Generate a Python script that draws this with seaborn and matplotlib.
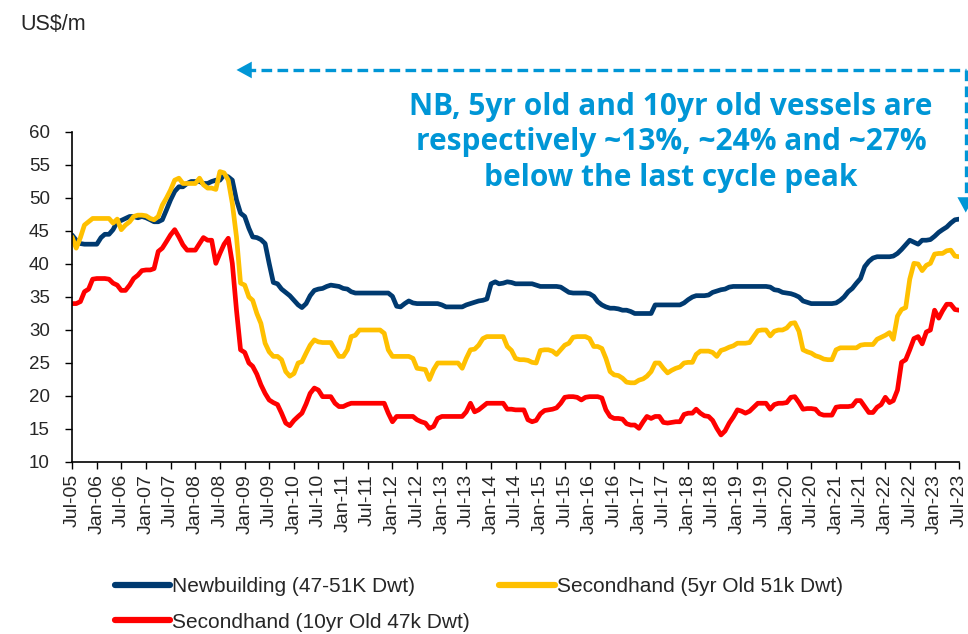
import matplotlib
matplotlib.use('Agg')
import matplotlib.pyplot as plt
import matplotlib.dates as mdates
import seaborn as sns
import pandas as pd

# monthly values, Jul-05 .. Jul-23 (US$ m)
months = pd.date_range('2005-07-01', '2023-07-01', freq='MS')

newbuilding = [
    44.4, 43.6, 43.1, 43, 43, 43, 43, 44, 44.5, 44.5,
    45.2, 46.4, 46.6, 46.9, 47.2, 47.2, 47, 47.2, 47, 46.7,
    46.4, 46.4, 46.7, 48.2, 49.7, 51, 51.7, 51.7, 52.2, 52.5,
    52.5, 52.5, 52.2, 52.2, 52.5, 52.7, 52.7, 53.5, 53.2, 52.7,
    49.7, 47.7, 47.2, 45.4, 44.1, 44, 43.7, 43.1, 40.1, 37.2,
    37, 36.2, 35.7, 35.2, 34.5, 33.8, 33.4, 34, 35.2, 36,
    36.2, 36.3, 36.6, 36.8, 36.7, 36.6, 36.3, 36.2, 35.8, 35.6,
    35.6, 35.6, 35.6, 35.6, 35.6, 35.6, 35.6, 35.6, 35.1, 33.6,
    33.5, 34, 34.4, 34.1, 34, 34, 34, 34, 34, 34,
    33.8, 33.5, 33.5, 33.5, 33.5, 33.5, 33.8, 34, 34.2, 34.4,
    34.5, 34.7, 37, 37.3, 37, 37.1, 37.3, 37.2, 37, 37,
    37, 37, 37, 36.8, 36.6, 36.6, 36.6, 36.6, 36.6, 36.5,
    36.1, 35.7, 35.6, 35.6, 35.6, 35.6, 35.5, 35.1, 34.3, 33.8,
    33.5, 33.3, 33.3, 33.2, 33, 33, 32.8, 32.5, 32.5, 32.5,
    32.5, 32.5, 33.8, 33.8, 33.8, 33.8, 33.8, 33.8, 33.8, 34.1,
    34.6, 35, 35.2, 35.2, 35.2, 35.3, 35.7, 35.9, 36.1, 36.2,
    36.5, 36.6, 36.6, 36.6, 36.6, 36.6, 36.6, 36.6, 36.6, 36.6,
    36.5, 36.1, 36, 35.7, 35.6, 35.5, 35.3, 35, 34.4, 34.2,
    34, 34, 34, 34, 34, 34, 34.1, 34.5, 35, 35.8,
    36.3, 37.1, 37.8, 39.6, 40.4, 40.9, 41.1, 41.1, 41.1, 41.1,
    41.2, 41.6, 42.2, 42.9, 43.6, 43.3, 43, 43.6, 43.6, 43.7,
    44.2, 44.8, 45.2, 45.6, 46.2, 46.7, 46.8,
]

secondhand_5yr = [
    44.1, 42.4, 44, 45.9, 46.4, 46.9, 46.9, 46.9, 46.9, 46.9,
    46.2, 46.8, 45.2, 45.9, 46.4, 47.2, 47.4, 47.4, 47.3, 46.9,
    46.7, 47.2, 48.9, 50, 51.2, 52.7, 53, 52.2, 52.2, 52.2,
    52.2, 53, 52, 51.5, 51.5, 51.3, 54, 53.8, 52.7, 49.2,
    44.1, 37.1, 36.8, 35, 34.5, 32.5, 31, 28, 26.7, 26,
    26, 25.5, 23.7, 23, 23.4, 25, 25.2, 26.5, 27.7, 28.5,
    28.2, 28.1, 28.1, 28.1, 27, 26, 26, 27, 29, 29.2,
    30, 30, 30, 30, 30, 30, 29.5, 27, 26, 26,
    26, 26, 26, 25.7, 24.2, 24.1, 24, 22.5, 24, 25,
    25, 25, 25, 25, 25, 24.2, 25.7, 27, 27.1, 27.7,
    28.7, 29, 29, 29, 29, 29, 27.5, 26.9, 25.7, 25.5,
    25.5, 25.4, 25.1, 25, 26.9, 27, 27, 26.8, 26.3, 27,
    27.7, 28, 28.9, 29, 29, 29, 28.7, 27.5, 27.5, 27.2,
    25.7, 23.7, 23.2, 23.1, 22.7, 22.1, 22, 22, 22.4, 22.6,
    23, 23.7, 25, 25, 24.2, 23.5, 23.9, 24.2, 24.4, 25,
    25.1, 25.1, 26.3, 26.8, 26.8, 26.8, 26.6, 26, 26.9, 27.1,
    27.4, 27.6, 28, 28, 28, 28.1, 29, 29.9, 30, 30,
    29.1, 29.8, 30, 30, 30.3, 31, 31.1, 29.8, 27, 26.7,
    26.5, 26.1, 25.9, 25.6, 25.5, 25.5, 27, 27.3, 27.3, 27.3,
    27.3, 27.3, 27.7, 27.8, 27.8, 27.8, 28.6, 28.9, 29.2, 29.6,
    28.6, 32.1, 33.1, 33.4, 37.7, 40.1, 40, 39, 39.8, 40.1,
    41.5, 41.6, 41.6, 42, 42.1, 41.2, 41.1,
]

secondhand_10yr = [
    34, 34, 34.3, 35.8, 36.2, 37.7, 37.8, 37.8, 37.8, 37.7,
    37.1, 36.8, 36, 36, 36.8, 37.8, 38.3, 39, 39.1, 39.1,
    39.3, 41.9, 42.4, 43.4, 44.4, 45.2, 44.1, 42.9, 42.1, 42.1,
    42.1, 43.1, 44, 43.6, 43.6, 40.1, 41.6, 43, 43.9, 40.1,
    33, 27, 26.6, 25, 24.5, 23.3, 21.7, 20.4, 19.4, 19,
    18.7, 17.4, 15.9, 15.5, 16.3, 16.9, 17.4, 18.8, 20.4, 21.2,
    20.9, 19.9, 19.9, 19.9, 18.9, 18.4, 18.4, 18.7, 18.9, 18.9,
    18.9, 18.9, 18.9, 18.9, 18.9, 18.9, 18.9, 17.4, 16.1, 16.9,
    16.9, 16.9, 16.9, 16.9, 16.4, 16.1, 15.9, 15.1, 15.4, 16.6,
    16.9, 16.9, 16.9, 16.9, 16.9, 16.9, 17.6, 18.9, 17.6, 17.9,
    18.4, 18.9, 18.9, 18.9, 18.9, 18.9, 18, 18, 17.9, 17.9,
    17.9, 16.4, 16.1, 16.3, 17.3, 17.8, 17.9, 18, 18.2, 18.9,
    19.8, 19.9, 19.9, 19.8, 19.4, 19.8, 19.9, 19.9, 19.9, 19.7,
    17.9, 16.9, 16.6, 16.6, 16.5, 15.8, 15.6, 15.6, 15.1, 16.1,
    16.9, 16.6, 16.9, 16.9, 16, 15.9, 16, 16.1, 16.1, 17.2,
    17.4, 17.4, 18, 17.4, 17, 16.9, 16.3, 15.1, 14.1, 14.7,
    15.9, 16.8, 17.9, 17.7, 17.4, 17.7, 18.3, 18.9, 18.9, 18.9,
    18, 18.7, 18.9, 18.9, 19, 19.8, 19.9, 19, 18, 18.1,
    18.1, 18, 17.3, 17.1, 17.1, 17.1, 18.3, 18.4, 18.4, 18.4,
    18.5, 19.3, 19.3, 18.4, 17.5, 17.5, 18.3, 18.7, 19.8, 19,
    19.3, 20.9, 25.1, 25.5, 27, 28.7, 29, 27.9, 29.7, 30,
    33, 31.8, 32.9, 33.9, 33.9, 33.1, 33,
]

series_names = ['Newbuilding (47-51K Dwt)',
                'Secondhand (5yr Old 51k Dwt)',
                'Secondhand (10yr Old 47k Dwt)']
series_colors = ['#003A70', '#FFC000', '#FF0000']
note = ('NB, 5yr old and 10yr old vessels are\n'
        'respectively ~13%, ~24% and ~27%\n'
        'below the last cycle peak')
note_color = '#0096D6'

df = pd.DataFrame({'month': months,
                   series_names[0]: newbuilding,
                   series_names[1]: secondhand_5yr,
                   series_names[2]: secondhand_10yr})
df = df.melt(id_vars='month', var_name='series', value_name='price')

sns.set_style('ticks')
plt.rcParams['font.family'] = ['Liberation Sans', 'DejaVu Sans']

fig = plt.figure(figsize=(9.68, 6.34), dpi=100)
ax = fig.add_axes([0.0744, 0.2713, 0.9163, 0.5205])

sns.lineplot(data=df, x='month', y='price', hue='series',
             palette=dict(zip(series_names, series_colors)),
             linewidth=3.4, ax=ax)

handles, labels = ax.get_legend_handles_labels()
ax.get_legend().remove()
for h in handles:
    h.set_linewidth(4.5)
order = [0, 2, 1]
fig.legend([handles[i] for i in order], [labels[i] for i in order],
           ncol=2, loc='upper left', bbox_to_anchor=(0.119, 0.09),
           frameon=False, fontsize=15, handlelength=2.65,
           handletextpad=0.1, columnspacing=1.4, labelspacing=0.8,
           borderpad=0, borderaxespad=0)

ax.set_xlim(months[0], months[-1])
ax.set_ylim(10, 60)
ax.set_yticks(range(10, 61, 5))
ax.xaxis.set_major_locator(mdates.MonthLocator(bymonth=[1, 7]))
ax.xaxis.set_major_formatter(mdates.DateFormatter('%b-%y'))
ax.tick_params(axis='x', labelrotation=90, labelsize=14, length=5,
               width=1, color='black', direction='out')
ax.tick_params(axis='y', labelsize=13.5, length=5, width=1, pad=11,
               color='black', direction='out')
ax.set_xlabel('')
ax.set_ylabel('')
sns.despine(ax=ax)
for s in ['left', 'bottom']:
    ax.spines[s].set_color('black')
    ax.spines[s].set_linewidth(1.2)

fig.text(0.021, 0.961, 'US$/m', fontsize=15.5, va='center', ha='left')

# dashed arrows marking the last cycle peak
y_arrow = 69.4
x_left = pd.Timestamp('2008-11-01')
x_right = pd.Timestamp('2023-08-20')
ax.plot([x_left + pd.Timedelta(days=60), x_right], [y_arrow, y_arrow],
        ls=(0, (3.2, 1.6)), lw=2.4, color=note_color, clip_on=False)
ax.plot([x_right, x_right], [y_arrow, 50.0], ls=(0, (3.2, 1.6)), lw=2.4,
        color=note_color, clip_on=False)
ax.annotate('', xy=(x_left, y_arrow),
            xytext=(x_left + pd.Timedelta(days=70), y_arrow),
            arrowprops=dict(arrowstyle='-|>,head_length=0.55,head_width=0.3',
                            color=note_color, lw=0, mutation_scale=20,
                            shrinkA=0, shrinkB=0),
            annotation_clip=False)
ax.annotate('', xy=(x_right, 47.8), xytext=(x_right, 50.5),
            arrowprops=dict(arrowstyle='-|>,head_length=0.55,head_width=0.3',
                            color=note_color, lw=0, mutation_scale=20,
                            shrinkA=0, shrinkB=0),
            annotation_clip=False)

fig.text(0.693, 1 - 142.5 / 634, note, fontsize=21.5, fontweight='bold',
         color=note_color, ha='center', va='center', multialignment='center',
         linespacing=1.25, family=['Open Sans', 'DejaVu Sans'])

fig.savefig('out.png', dpi=100)
